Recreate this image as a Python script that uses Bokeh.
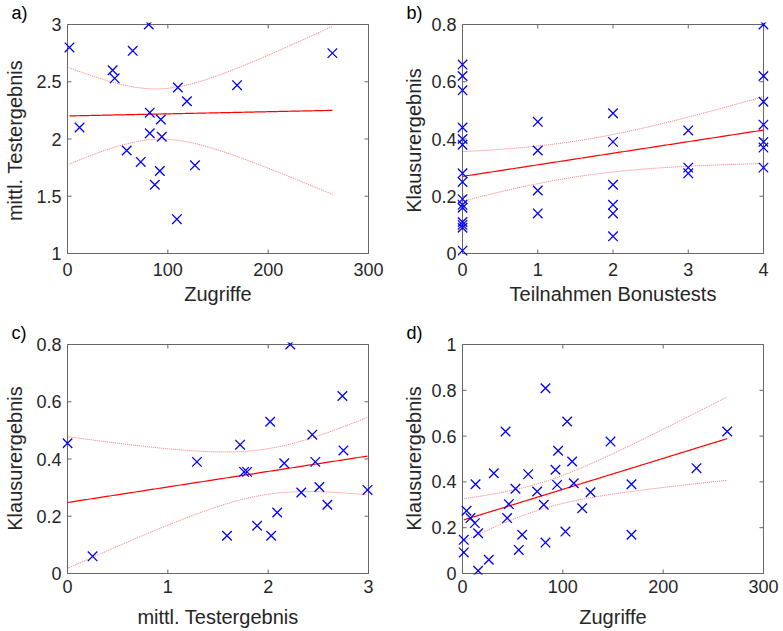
import numpy as np
from bokeh.plotting import figure
from bokeh.layouts import column, row
from bokeh.models import Range1d, FixedTicker
from bokeh.embed import file_html
from bokeh.resources import INLINE

# ---------------- data ----------------
# a) Zugriffe vs. mittl. Testergebnis
a_zugriffe = [2, 12, 45, 47, 65, 81, 59, 73, 82, 82, 93, 94, 92, 87, 109, 110, 119, 127, 169, 264]
a_test = [2.80, 2.10, 2.60, 2.53, 2.77, 3.00, 1.90, 1.80, 2.23, 2.05, 2.17, 2.02, 1.72, 1.60,
          1.30, 2.45, 2.33, 1.77, 2.47, 2.75]

# b) Teilnahmen Bonustests vs. Klausurergebnis
b_bonus = [0] * 15 + [1] * 4 + [2] * 6 + [3] * 3 + [4] * 7
b_klausur = [0.66, 0.62, 0.57, 0.44, 0.40, 0.38, 0.28, 0.25, 0.19, 0.17, 0.16, 0.11, 0.10, 0.09, 0.01,
             0.46, 0.36, 0.22, 0.14,
             0.49, 0.39, 0.24, 0.17, 0.14, 0.06,
             0.43, 0.30, 0.28,
             0.80, 0.62, 0.53, 0.45, 0.39, 0.37, 0.30]

# c) mittl. Testergebnis vs. Klausurergebnis
c_test = [0.0, 0.25, 1.29, 2.22, 2.74, 2.02, 2.44, 1.72, 2.75, 1.76, 1.79, 2.16, 2.47, 2.33, 2.51,
          2.99, 2.59, 2.09, 1.89, 1.59, 2.03]
c_klausur = [0.455, 0.06, 0.39, 0.80, 0.62, 0.53, 0.485, 0.45, 0.43, 0.355, 0.355, 0.385, 0.39, 0.283,
             0.302, 0.292, 0.24, 0.213, 0.167, 0.132, 0.132]

# d) Zugriffe vs. Klausurergebnis
d_zugriffe = [4, 8, 12.3, 15.6, 1.3, 1.3, 13, 31.2, 42.9, 52.8, 46.2, 44.5, 26.2, 15.6, 56.1, 59.5,
              65.5, 74.4, 81, 82.7, 82.7, 92.7, 95.3, 94.3, 102.6, 104.3, 109.3, 110.9, 147.5, 127.6,
              119.3, 168.4, 168.4, 233.2, 263.8]
d_klausur = [0.274, 0.242, 0.220, 0.176, 0.147, 0.092, 0.39, 0.438, 0.62, 0.37, 0.303, 0.242, 0.06,
             0.012, 0.103, 0.169, 0.434, 0.358, 0.30, 0.809, 0.135, 0.453, 0.536, 0.387, 0.183, 0.664,
             0.489, 0.394, 0.576, 0.355, 0.285, 0.39, 0.169, 0.46, 0.62]

# tick values
ticks_zugriffe = [0, 100, 200, 300]
ticks_test_y = [1, 1.5, 2, 2.5, 3]
ticks_test_x = [0, 1, 2, 3]
ticks_bonus = [0, 1, 2, 3, 4]
ticks_klausur = [0, 0.2, 0.4, 0.6, 0.8]
ticks_klausur_d = [0, 0.2, 0.4, 0.6, 0.8, 1]

# two-sided 95% t quantiles for n-2 degrees of freedom
t95 = {18: 2.1009, 19: 2.0930, 33: 2.0345}

FONT = "Liberation Sans"
FRAME = "#666666"
TEXT = "#262626"

# box size in px, and room around the box so markers on the box edge stay whole
BOX_W, BOX_H = 301, 229
ML, MR, MT = 5, 5, 2
TICK = 4


def fit_band(x, y):
    x = np.asarray(x, float)
    y = np.asarray(y, float)
    n = len(x)
    b1, b0 = np.polyfit(x, y, 1)
    res = y - (b0 + b1 * x)
    s = np.sqrt(np.sum(res ** 2) / (n - 2))
    xs = np.linspace(x.min(), x.max(), 200)
    yh = b0 + b1 * xs
    hw = t95[n - 2] * s * np.sqrt(1.0 / n + (xs - x.mean()) ** 2 / np.sum((x - x.mean()) ** 2))
    return xs, yh, yh - hw, yh + hw


def fmt(v):
    return ("%g" % v)


def style_axis(ax, ticks):
    ax.ticker = FixedTicker(ticks=ticks)
    ax.major_label_overrides = {v: fmt(v) for v in ticks}
    ax.axis_line_color = None
    ax.major_tick_line_color = None
    ax.minor_tick_line_color = None
    ax.major_tick_in = 0
    ax.major_tick_out = 0
    ax.minor_tick_in = 0
    ax.minor_tick_out = 0
    ax.major_label_text_font = FONT
    ax.major_label_text_font_size = "18px"
    ax.major_label_text_color = TEXT
    ax.axis_label_text_font = FONT
    ax.axis_label_text_color = TEXT
    ax.axis_label_text_font_style = "normal"
    ax.axis_label_text_font_size = "20px"


def panel(x, y, xr, yr, xt, yt, xlabel, ylabel, letter, left, right, top, bottom,
          mb, xtick_gap, xlabel_standoff, ylabel_standoff):
    dx = (xr[1] - xr[0]) / BOX_W
    dy = (yr[1] - yr[0]) / BOX_H
    p = figure(frame_width=BOX_W + ML + MR, frame_height=BOX_H + MT + mb,
               x_range=Range1d(xr[0] - ML * dx, xr[1] + MR * dx),
               y_range=Range1d(yr[0] - mb * dy, yr[1] + MT * dy),
               output_backend="svg", toolbar_location=None,
               min_border_left=left - ML, min_border_right=right - MR,
               min_border_top=top - MT, min_border_bottom=bottom - mb)
    p.xgrid.visible = False
    p.ygrid.visible = False
    p.outline_line_color = None
    p.background_fill_color = "white"
    p.border_fill_color = "white"

    p.title.text = letter
    p.title.align = "left"
    p.title.offset = -56 + ML
    p.title.standoff = 0
    p.title.text_font = FONT
    p.title.text_font_size = "18px"
    p.title.text_font_style = "normal"
    p.title.text_color = "#000000"

    style_axis(p.xaxis[0], xt)
    style_axis(p.yaxis[0], yt)
    p.xaxis[0].axis_label = xlabel
    p.yaxis[0].axis_label = ylabel
    p.xaxis[0].major_label_standoff = max(xtick_gap - mb, 0)
    p.yaxis[0].major_label_standoff = max(6 - ML, 0)
    p.xaxis[0].axis_label_standoff = xlabel_standoff
    p.yaxis[0].axis_label_standoff = ylabel_standoff

    # box and inward ticks on all four sides (MATLAB "box on")
    p.quad(left=[xr[0]], right=[xr[1]], bottom=[yr[0]], top=[yr[1]],
           fill_color=None, line_color=FRAME, line_width=1)
    p.segment(x0=xt, x1=xt, y0=[yr[0]] * len(xt), y1=[yr[0] + TICK * dy] * len(xt),
              line_color=FRAME, line_width=1)
    p.segment(x0=xt, x1=xt, y0=[yr[1]] * len(xt), y1=[yr[1] - TICK * dy] * len(xt),
              line_color=FRAME, line_width=1)
    p.segment(x0=[xr[0]] * len(yt), x1=[xr[0] + TICK * dx] * len(yt), y0=yt, y1=yt,
              line_color=FRAME, line_width=1)
    p.segment(x0=[xr[1]] * len(yt), x1=[xr[1] - TICK * dx] * len(yt), y0=yt, y1=yt,
              line_color=FRAME, line_width=1)

    xs, yh, lo, hi = fit_band(x, y)
    p.line(xs, hi, line_color="#ff0000", line_alpha=0.55, line_width=1, line_dash="1 1")
    p.line(xs, lo, line_color="#ff0000", line_alpha=0.55, line_width=1, line_dash="1 1")
    p.line(xs, yh, line_color="#ff0000", line_width=1.2)
    p.scatter(x, y, marker="x", size=13.5, line_color="#0000ff", line_width=1.3)
    return p


pa = panel(a_zugriffe, a_test, (0, 300), (1, 3), ticks_zugriffe, ticks_test_y,
           "Zugriffe", "mittl. Testergebnis", "a)", 67, 22, 23, 58, 5, 9, 4, 7)
pb = panel(b_bonus, b_klausur, (0, 4), (0, 0.8), ticks_bonus, ticks_klausur,
           "Teilnahmen Bonustests", "Klausurergebnis", "b)", 72, 20, 23, 58, 5, 9, 4, 3)
pc = panel(c_test, c_klausur, (0, 3), (0, 0.8), ticks_test_x, ticks_klausur,
           "mittl. Testergebnis", "Klausurergebnis", "c)", 67, 22, 33, 59, 1, 6, 10, 7)
pd_ = panel(d_zugriffe, d_klausur, (0, 300), (0, 1), ticks_zugriffe, ticks_klausur_d,
            "Zugriffe", "Klausurergebnis", "d)", 72, 20, 33, 59, 1, 6, 10, 3)

layout = column(row(pa, pb), row(pc, pd_))
open("out.html", "w").write(file_html(layout, INLINE))
